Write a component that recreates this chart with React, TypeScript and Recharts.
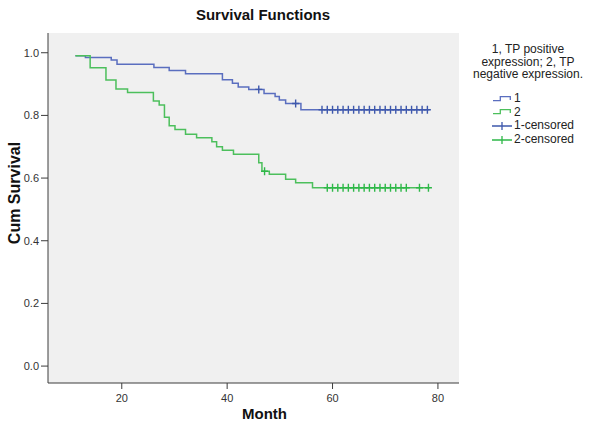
import React from 'react'
import {
  ComposedChart,
  Line,
  Scatter,
  XAxis,
  YAxis,
  CartesianGrid,
  Legend,
} from 'recharts'

const FONT = 'Arial, "Liberation Sans", sans-serif'

const MONTH_TICKS = [20, 40, 60, 80]
const SURV_TICKS = [0, 0.2, 0.4, 0.6, 0.8, 1.0]

// group 1, TP positive expression (event times and survival after each step)
const g1Months = [11.2, 13.1, 18.0, 19.1, 26.1, 29.0, 32.1, 39.1, 41.0, 42.1, 44.1, 47.0, 49.1, 49.9, 51.1, 54.0, 78.4]
const g1Surv = [0.990, 0.985, 0.977, 0.963, 0.953, 0.943, 0.933, 0.914, 0.903, 0.891, 0.883, 0.870, 0.860, 0.849, 0.838, 0.818, 0.818]
const g1Censored = [46, 53, 58, 59, 60, 61, 62, 63, 64, 65, 66, 67, 68, 69, 70, 71, 72, 73, 74, 75, 76, 77, 78]

// group 2, TP negative expression
const g2Months = [11.2, 14.0, 17.0, 18.9, 21.1, 26.0, 27.1, 28.1, 29.0, 30.1, 32.1, 34.2, 37.1, 38.0, 39.1, 41.2, 46.0, 46.6, 48.0, 51.1, 53.0, 56.2, 78.4]
const g2Surv = [0.990, 0.952, 0.913, 0.884, 0.873, 0.846, 0.833, 0.794, 0.767, 0.755, 0.740, 0.729, 0.716, 0.700, 0.689, 0.676, 0.649, 0.622, 0.612, 0.596, 0.585, 0.569, 0.569]
const g2Censored = [47.1, 59, 60, 61, 62, 63, 64, 65, 66, 67, 68, 69, 70, 71, 72, 73, 74, 76.5, 78.2]

const BLUE = '#5a6ebf'
const BLUE_DARK = '#3e58ac'
const GREEN = '#4cbf5c'
const GREEN_DARK = '#2eb848'
const AXIS = '#3c3c3c'

type Pt = { t: number; s: number }

function toSteps(months: number[], surv: number[]): Pt[] {
  return months.map((t, i) => ({ t, s: surv[i] }))
}

// survival level of the step curve at a given month
function survAt(months: number[], surv: number[], t: number): number {
  let v = surv[0]
  for (let i = 0; i < months.length; i++) {
    if (months[i] <= t) v = surv[i]
  }
  return v
}

function toCensored(times: number[], months: number[], surv: number[]): Pt[] {
  return times.map((t) => ({ t, s: survAt(months, surv, t) }))
}

const g1Data = toSteps(g1Months, g1Surv)
const g2Data = toSteps(g2Months, g2Surv)
const g1Cens = toCensored(g1Censored, g1Months, g1Surv)
const g2Cens = toCensored(g2Censored, g2Months, g2Surv)

const censorShape = (color: string) => (props: any) => {
  const { cx, cy } = props
  return (
    <path
      d={`M${cx - 3.5},${cy}h7M${cx},${cy - 4}v8`}
      stroke={color}
      strokeWidth={1.4}
      fill="none"
    />
  )
}

function StepIcon({ color }: { color: string }) {
  return (
    <svg width={22} height={14} style={{ display: 'block' }}>
      <path d="M1,8.7 H8.3 V4.7 H18.3 V8" stroke={color} strokeWidth={1.3} fill="none" />
    </svg>
  )
}

function CensorIcon({ color }: { color: string }) {
  return (
    <svg width={22} height={14} style={{ display: 'block' }}>
      <path d="M0,7 H20 M10,3 V11" stroke={color} strokeWidth={1.3} fill="none" />
    </svg>
  )
}

const LEGEND_ITEMS = [
  { label: '1', icon: <StepIcon color={BLUE} /> },
  { label: '2', icon: <StepIcon color={GREEN} /> },
  { label: '1-censored', icon: <CensorIcon color={BLUE_DARK} /> },
  { label: '2-censored', icon: <CensorIcon color={GREEN_DARK} /> },
]

function SurvivalLegend() {
  return (
    <div style={{ fontFamily: FONT, fontSize: 12, color: '#222' }}>
      <div style={{ textAlign: 'center', lineHeight: '12.5px' }}>
        1, TP positive
        <br />
        expression; 2, TP
        <br />
        negative expression.
      </div>
      <div style={{ marginTop: 11.5, paddingLeft: 34 }}>
        {LEGEND_ITEMS.map((it) => (
          <div key={it.label} style={{ display: 'flex', alignItems: 'center', height: 13.6 }}>
            {it.icon}
            <span style={{ lineHeight: '13px' }}>{it.label}</span>
          </div>
        ))}
      </div>
    </div>
  )
}

const MonthLabel = (props: any) => {
  const vb = props.viewBox
  return (
    <text
      x={vb.x + vb.width / 2 + 11}
      y={vb.y + 36}
      textAnchor="middle"
      fontFamily={FONT}
      fontWeight="bold"
      fontSize={15}
      fill="#111"
    >
      Month
    </text>
  )
}

const SurvLabel = (props: any) => {
  const vb = props.viewBox
  const x = vb.x + 14
  const y = vb.y + vb.height / 2 - 15
  return (
    <text
      x={x}
      y={y}
      transform={`rotate(-90, ${x}, ${y})`}
      textAnchor="middle"
      dominantBaseline="central"
      fontFamily={FONT}
      fontWeight="bold"
      fontSize={16}
      fill="#111"
    >
      Cum Survival
    </text>
  )
}

export default function App() {
  const tickStyle = { fontSize: 11, fill: '#333', fontFamily: FONT }
  return (
    <div style={{ position: 'absolute', left: 0, top: 0, width: 600, height: 427, background: '#fff' }}>
      <div
        style={{
          position: 'absolute',
          left: 163,
          top: 6,
          width: 200,
          textAlign: 'center',
          fontFamily: FONT,
          fontWeight: 'bold',
          fontSize: 15,
          lineHeight: '18px',
          color: '#111',
          zIndex: 1,
        }}
      >
        Survival Functions
      </div>
      <ComposedChart width={600} height={427} margin={{ top: 33, right: 141, left: 0, bottom: 0 }}>
        <CartesianGrid fill="#f0f0f0" horizontal={false} vertical={false} />
        <XAxis
          dataKey="t"
          type="number"
          domain={[6, 84]}
          ticks={MONTH_TICKS}
          allowDataOverflow
          height={44}
          tickSize={6}
          tickMargin={5}
          tick={tickStyle}
          stroke={AXIS}
          label={MonthLabel}
        />
        <YAxis
          dataKey="s"
          type="number"
          domain={[-0.054, 1.063]}
          ticks={SURV_TICKS}
          allowDataOverflow
          width={48}
          tickSize={7}
          tickMargin={2}
          tick={tickStyle}
          tickFormatter={(v: number) => v.toFixed(1)}
          stroke={AXIS}
          label={SurvLabel}
        />
        <XAxis
          xAxisId="top"
          orientation="top"
          type="number"
          domain={[6, 84]}
          height={0}
          tick={false}
          tickLine={false}
          stroke={AXIS}
        />
        <YAxis
          yAxisId="right"
          orientation="right"
          type="number"
          domain={[0, 1]}
          width={0}
          tick={false}
          tickLine={false}
          stroke={AXIS}
        />
        <Line
          data={g1Data}
          dataKey="s"
          type="stepAfter"
          stroke={BLUE}
          strokeWidth={1.5}
          dot={false}
          activeDot={false}
          isAnimationActive={false}
        />
        <Line
          data={g2Data}
          dataKey="s"
          type="stepAfter"
          stroke={GREEN}
          strokeWidth={1.5}
          dot={false}
          activeDot={false}
          isAnimationActive={false}
        />
        <Scatter data={g1Cens} dataKey="s" shape={censorShape(BLUE_DARK)} isAnimationActive={false} />
        <Scatter data={g2Cens} dataKey="s" shape={censorShape(GREEN_DARK)} isAnimationActive={false} />
        <Legend
          layout="horizontal"
          verticalAlign="middle"
          align="center"
          content={SurvivalLegend}
          wrapperStyle={{ position: 'absolute', left: 458, top: 43, width: 140 }}
        />
      </ComposedChart>
    </div>
  )
}
